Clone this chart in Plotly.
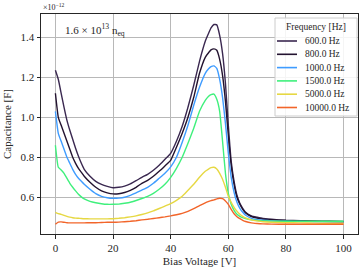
import plotly.graph_objects as go

voltage = [0, 1, 2, 3, 4, 5, 6, 7, 8, 9, 10,
           12, 14, 16, 18, 20, 22, 24, 26, 28, 30, 32, 34, 36, 38, 40, 42, 44, 46, 48, 50, 52,
           53, 54, 55, 56, 57, 58, 59, 60, 61, 62, 63, 64, 65, 66,
           68, 70, 72, 75, 80, 85, 90, 95, 100]

c_600 = [1.235, 1.19, 1.12, 1.05, 0.985, 0.935, 0.89, 0.845, 0.805, 0.77, 0.74,
         0.705, 0.68, 0.665, 0.655, 0.648, 0.65, 0.656, 0.667, 0.683, 0.70, 0.715, 0.735, 0.76, 0.79, 0.82, 0.88, 0.955, 1.05, 1.16, 1.28, 1.38,
         1.415, 1.447, 1.464, 1.462, 1.41, 1.32, 1.17, 0.96, 0.78, 0.68, 0.61, 0.57, 0.545, 0.525,
         0.507, 0.50, 0.494, 0.49, 0.485, 0.483, 0.481, 0.48, 0.479]
c_800 = [1.12, 1.00, 0.96, 0.92, 0.88, 0.84, 0.80, 0.77, 0.745, 0.725, 0.705,
         0.675, 0.65, 0.632, 0.622, 0.617, 0.618, 0.624, 0.635, 0.65, 0.67, 0.685, 0.705, 0.73, 0.757, 0.785, 0.85, 0.92, 1.00, 1.10, 1.22, 1.30,
         1.32, 1.337, 1.342, 1.335, 1.29, 1.21, 1.08, 0.91, 0.76, 0.665, 0.60, 0.565, 0.54, 0.522,
         0.504, 0.496, 0.491, 0.488, 0.484, 0.482, 0.48, 0.479, 0.478]
c_1000 = [1.03, 0.92, 0.88, 0.84, 0.80, 0.77, 0.74, 0.715, 0.695, 0.68, 0.665,
          0.64, 0.618, 0.605, 0.598, 0.595, 0.596, 0.60, 0.61, 0.622, 0.636, 0.65, 0.67, 0.695, 0.72, 0.752, 0.80, 0.875, 0.96, 1.06, 1.15, 1.22,
          1.24, 1.253, 1.257, 1.245, 1.19, 1.10, 0.97, 0.82, 0.70, 0.625, 0.575, 0.545, 0.525, 0.51,
          0.495, 0.488, 0.485, 0.482, 0.48, 0.479, 0.478, 0.477, 0.477]
c_1500 = [0.86, 0.75, 0.737, 0.72, 0.695, 0.67, 0.65, 0.632, 0.615, 0.602, 0.592,
          0.58, 0.573, 0.568, 0.565, 0.565, 0.566, 0.57, 0.575, 0.584, 0.594, 0.605, 0.62, 0.64, 0.665, 0.70, 0.745, 0.80, 0.87, 0.945, 1.03, 1.085,
          1.103, 1.113, 1.116, 1.09, 1.03, 0.88, 0.72, 0.62, 0.565, 0.535, 0.515, 0.505, 0.498, 0.493,
          0.487, 0.484, 0.482, 0.481, 0.48, 0.48, 0.48, 0.48, 0.48]
c_5000 = [0.525, 0.518, 0.515, 0.51, 0.505, 0.501, 0.498, 0.496, 0.495, 0.494, 0.493,
          0.492, 0.492, 0.492, 0.492, 0.493, 0.495, 0.498, 0.502, 0.507, 0.514, 0.522, 0.532, 0.544, 0.556, 0.568, 0.585, 0.605, 0.635, 0.665, 0.70, 0.73,
          0.74, 0.748, 0.75, 0.742, 0.72, 0.69, 0.65, 0.605, 0.575, 0.55, 0.53, 0.515, 0.505, 0.497,
          0.487, 0.482, 0.478, 0.475, 0.473, 0.472, 0.471, 0.47, 0.47]
c_10000 = [0.465, 0.476, 0.477, 0.475, 0.473, 0.472, 0.472, 0.472, 0.472, 0.472, 0.472,
           0.473, 0.473, 0.474, 0.475, 0.475, 0.476, 0.478, 0.48, 0.483, 0.487, 0.49, 0.494, 0.498, 0.502, 0.507, 0.513, 0.52, 0.53, 0.543, 0.558, 0.572,
           0.578, 0.583, 0.587, 0.592, 0.595, 0.593, 0.582, 0.565, 0.54, 0.518, 0.503, 0.493, 0.485, 0.479,
           0.472, 0.469, 0.467, 0.466, 0.465, 0.465, 0.465, 0.465, 0.465]

series_names = ["600.0 Hz", "800.0 Hz", "1000.0 Hz", "1500.0 Hz", "5000.0 Hz", "10000.0 Hz"]
series_values = [c_600, c_800, c_1000, c_1500, c_5000, c_10000]
series_colors = ["#3a2850", "#231330", "#3f9cff", "#3ff07c", "#e6d843", "#f2652a"]

x_ticks = [0, 20, 40, 60, 80, 100]
y_ticks = [0.6, 0.8, 1.0, 1.2, 1.4]
y_tick_labels = ["0.6", "0.8", "1.0", "1.2", "1.4"]

FONT = "Liberation Serif"
W, H = 363, 271
ML, MR, MT, MB = 41, 5, 14, 37
PW, PH = W - ML - MR, H - MT - MB


def px(x):
    return (x - ML) / PW


def py(y):
    return 1 - (y - MT) / PH


fig = go.Figure()
for name, vals, col in zip(series_names, series_values, series_colors):
    fig.add_trace(go.Scatter(x=voltage, y=vals, mode="lines", name=name, showlegend=False,
                             line=dict(color=col, width=1.4, shape="spline", smoothing=0.4)))

axis_common = dict(showline=True, linecolor="#262626", linewidth=1, mirror=True,
                   ticks="outside", ticklen=3.5, tickcolor="#262626",
                   showgrid=True, gridcolor="#b8b8b8", gridwidth=0.8, zeroline=False,
                   tickfont=dict(family=FONT, size=11, color="#262626"))

fig.update_layout(
    width=W, height=H,
    margin=dict(l=ML, r=MR, t=MT, b=MB, autoexpand=False),
    paper_bgcolor="white", plot_bgcolor="white",
    font=dict(family=FONT, color="#262626"),
    xaxis=dict(range=[-5, 105], tickvals=x_ticks,
               title=dict(text="Bias Voltage [V]", font=dict(family=FONT, size=11), standoff=4),
               **axis_common),
    yaxis=dict(range=[0.4165, 1.5165], tickvals=y_ticks, ticktext=y_tick_labels,
               title=dict(text="Capacitance [F]", font=dict(family=FONT, size=11), standoff=6),
               **axis_common),
    showlegend=False,
)

# manual legend
fig.add_shape(type="rect", xref="paper", yref="paper",
              x0=px(275), x1=px(357), y0=py(116), y1=py(18),
              fillcolor="rgba(255,255,255,0.85)", line=dict(color="#cccccc", width=1))
fig.add_annotation(x=px(316), y=py(27), xref="paper", yref="paper", xanchor="center", yanchor="middle",
                   text="Frequency [Hz]", showarrow=False,
                   font=dict(family=FONT, size=9.5, color="#262626"))
legend_rows = [41, 54.3, 67.6, 80.9, 94.2, 107.5]
for name, col, ry in zip(series_names, series_colors, legend_rows):
    fig.add_shape(type="line", xref="paper", yref="paper",
                  x0=px(277), x1=px(297), y0=py(ry), y1=py(ry),
                  line=dict(color=col, width=1.6))
    fig.add_annotation(x=px(303), y=py(ry), xref="paper", yref="paper", xanchor="left", yanchor="middle",
                       text=name, showarrow=False,
                       font=dict(family=FONT, size=9.5, color="#262626"))

fig.add_annotation(x=0, y=1, xref="paper", yref="paper", xanchor="left", yanchor="bottom",
                   text="×10<sup>−12</sup>", showarrow=False,
                   font=dict(family=FONT, size=8, color="#262626"))
fig.add_annotation(x=px(63), y=py(20), xref="paper", yref="paper", xanchor="left", yanchor="top",
                   text="1.6 × 10<sup>13</sup> n<sub>eq</sub>", showarrow=False,
                   font=dict(family=FONT, size=11, color="#262626"))

fig.write_html("out.html", config={"displayModeBar": False},
               post_script="document.body.style.margin='0';document.body.style.overflow='hidden';")
